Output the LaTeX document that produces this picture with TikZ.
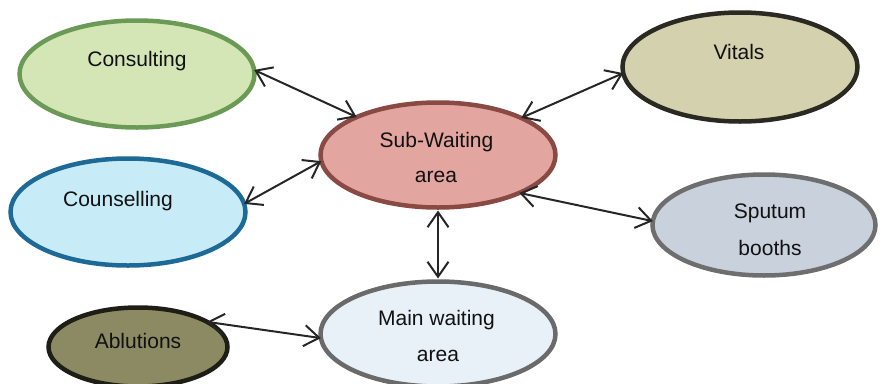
\documentclass[tikz,border=0pt]{standalone}
\usepackage{fontspec}
\setmainfont{Liberation Sans}
\usetikzlibrary{shapes.geometric,arrows.meta}

\definecolor{consFill}{HTML}{D4E6B6}
\definecolor{consLine}{HTML}{6A9A56}
\definecolor{counFill}{HTML}{C8EBF8}
\definecolor{counLine}{HTML}{1E6A96}
\definecolor{ablFill}{HTML}{8C8A62}
\definecolor{ablLine}{HTML}{1E1E16}
\definecolor{subFill}{HTML}{E2A59F}
\definecolor{subLine}{HTML}{8A4A44}
\definecolor{mainFill}{HTML}{E8F0F8}
\definecolor{mainLine}{HTML}{6A6A6A}
\definecolor{vitFill}{HTML}{D4D1AE}
\definecolor{vitLine}{HTML}{2A2A22}
\definecolor{sputFill}{HTML}{C9D1DD}
\definecolor{sputLine}{HTML}{6E6E6E}
\definecolor{labelInk}{HTML}{111111}

\tikzset{
  area/.style n args={4}{ellipse, draw=#2, fill=#1, line width=4.5pt,
    minimum width=#3, minimum height=#4, inner sep=0pt, outer sep=0pt},
  caption/.style={anchor=base, inner sep=0pt, text=labelInk,
    font=\fontsize{21}{25}\selectfont},
  barb/.tip={Straight Barb[length=15pt,width=21pt,line width=2pt]},
  link/.style={barb-barb, line width=2pt, draw=black!85}
}

\begin{document}
\begin{tikzpicture}[x=1pt,y=-1pt]
\useasboundingbox (0,0) rectangle (880,383);

% rooms
\node[area={consFill}{consLine}{235}{107}] (cons) at (137,74) {};
\node[area={counFill}{counLine}{235}{107}] (coun) at (128,212) {};
\node[area={ablFill}{ablLine}{179}{79}]    (abl)  at (138,347) {};
\node[area={subFill}{subLine}{235}{105}]   (sub)  at (438,155) {};
\node[area={mainFill}{mainLine}{235}{105}] (main) at (438,334) {};
\node[area={vitFill}{vitLine}{235}{109}]   (vit)  at (740,67) {};
\node[area={sputFill}{sputLine}{223}{101}] (sput) at (764,225) {};

% room names
\node[caption] (consT)  at (137,66.7)  {Consulting};
\node[caption] (counT)  at (118,206.7) {Counselling};
\node[caption] (ablT)   at (138,348)   {Ablutions};
\node[caption] (subT1)  at (436.5,147.3) {Sub-Waiting};
\node[caption] (subT2)  at (436,182.7) {area};
\node[caption] (mainT1) at (436.5,325) {Main waiting};
\node[caption] (mainT2) at (438,361.7) {area};
\node[caption] (vitT)   at (739,59.3)  {Vitals};
\node[caption] (sputT1) at (770,218)   {Sputum};
\node[caption] (sputT2) at (770,255)   {booths};

% movement between rooms
\draw[link] (cons.2)   -- (sub.155);
\draw[link] (coun.4)   -- (sub.183);
\draw[link] (vit.183)  -- (sub.24);
\draw[link] (sput.178) -- (sub.335);
\draw[link, shorten <=3pt, shorten >=3pt] (sub.south) -- (main.north);
\draw[link] (abl.20)   -- (main.182);
\end{tikzpicture}
\end{document}
